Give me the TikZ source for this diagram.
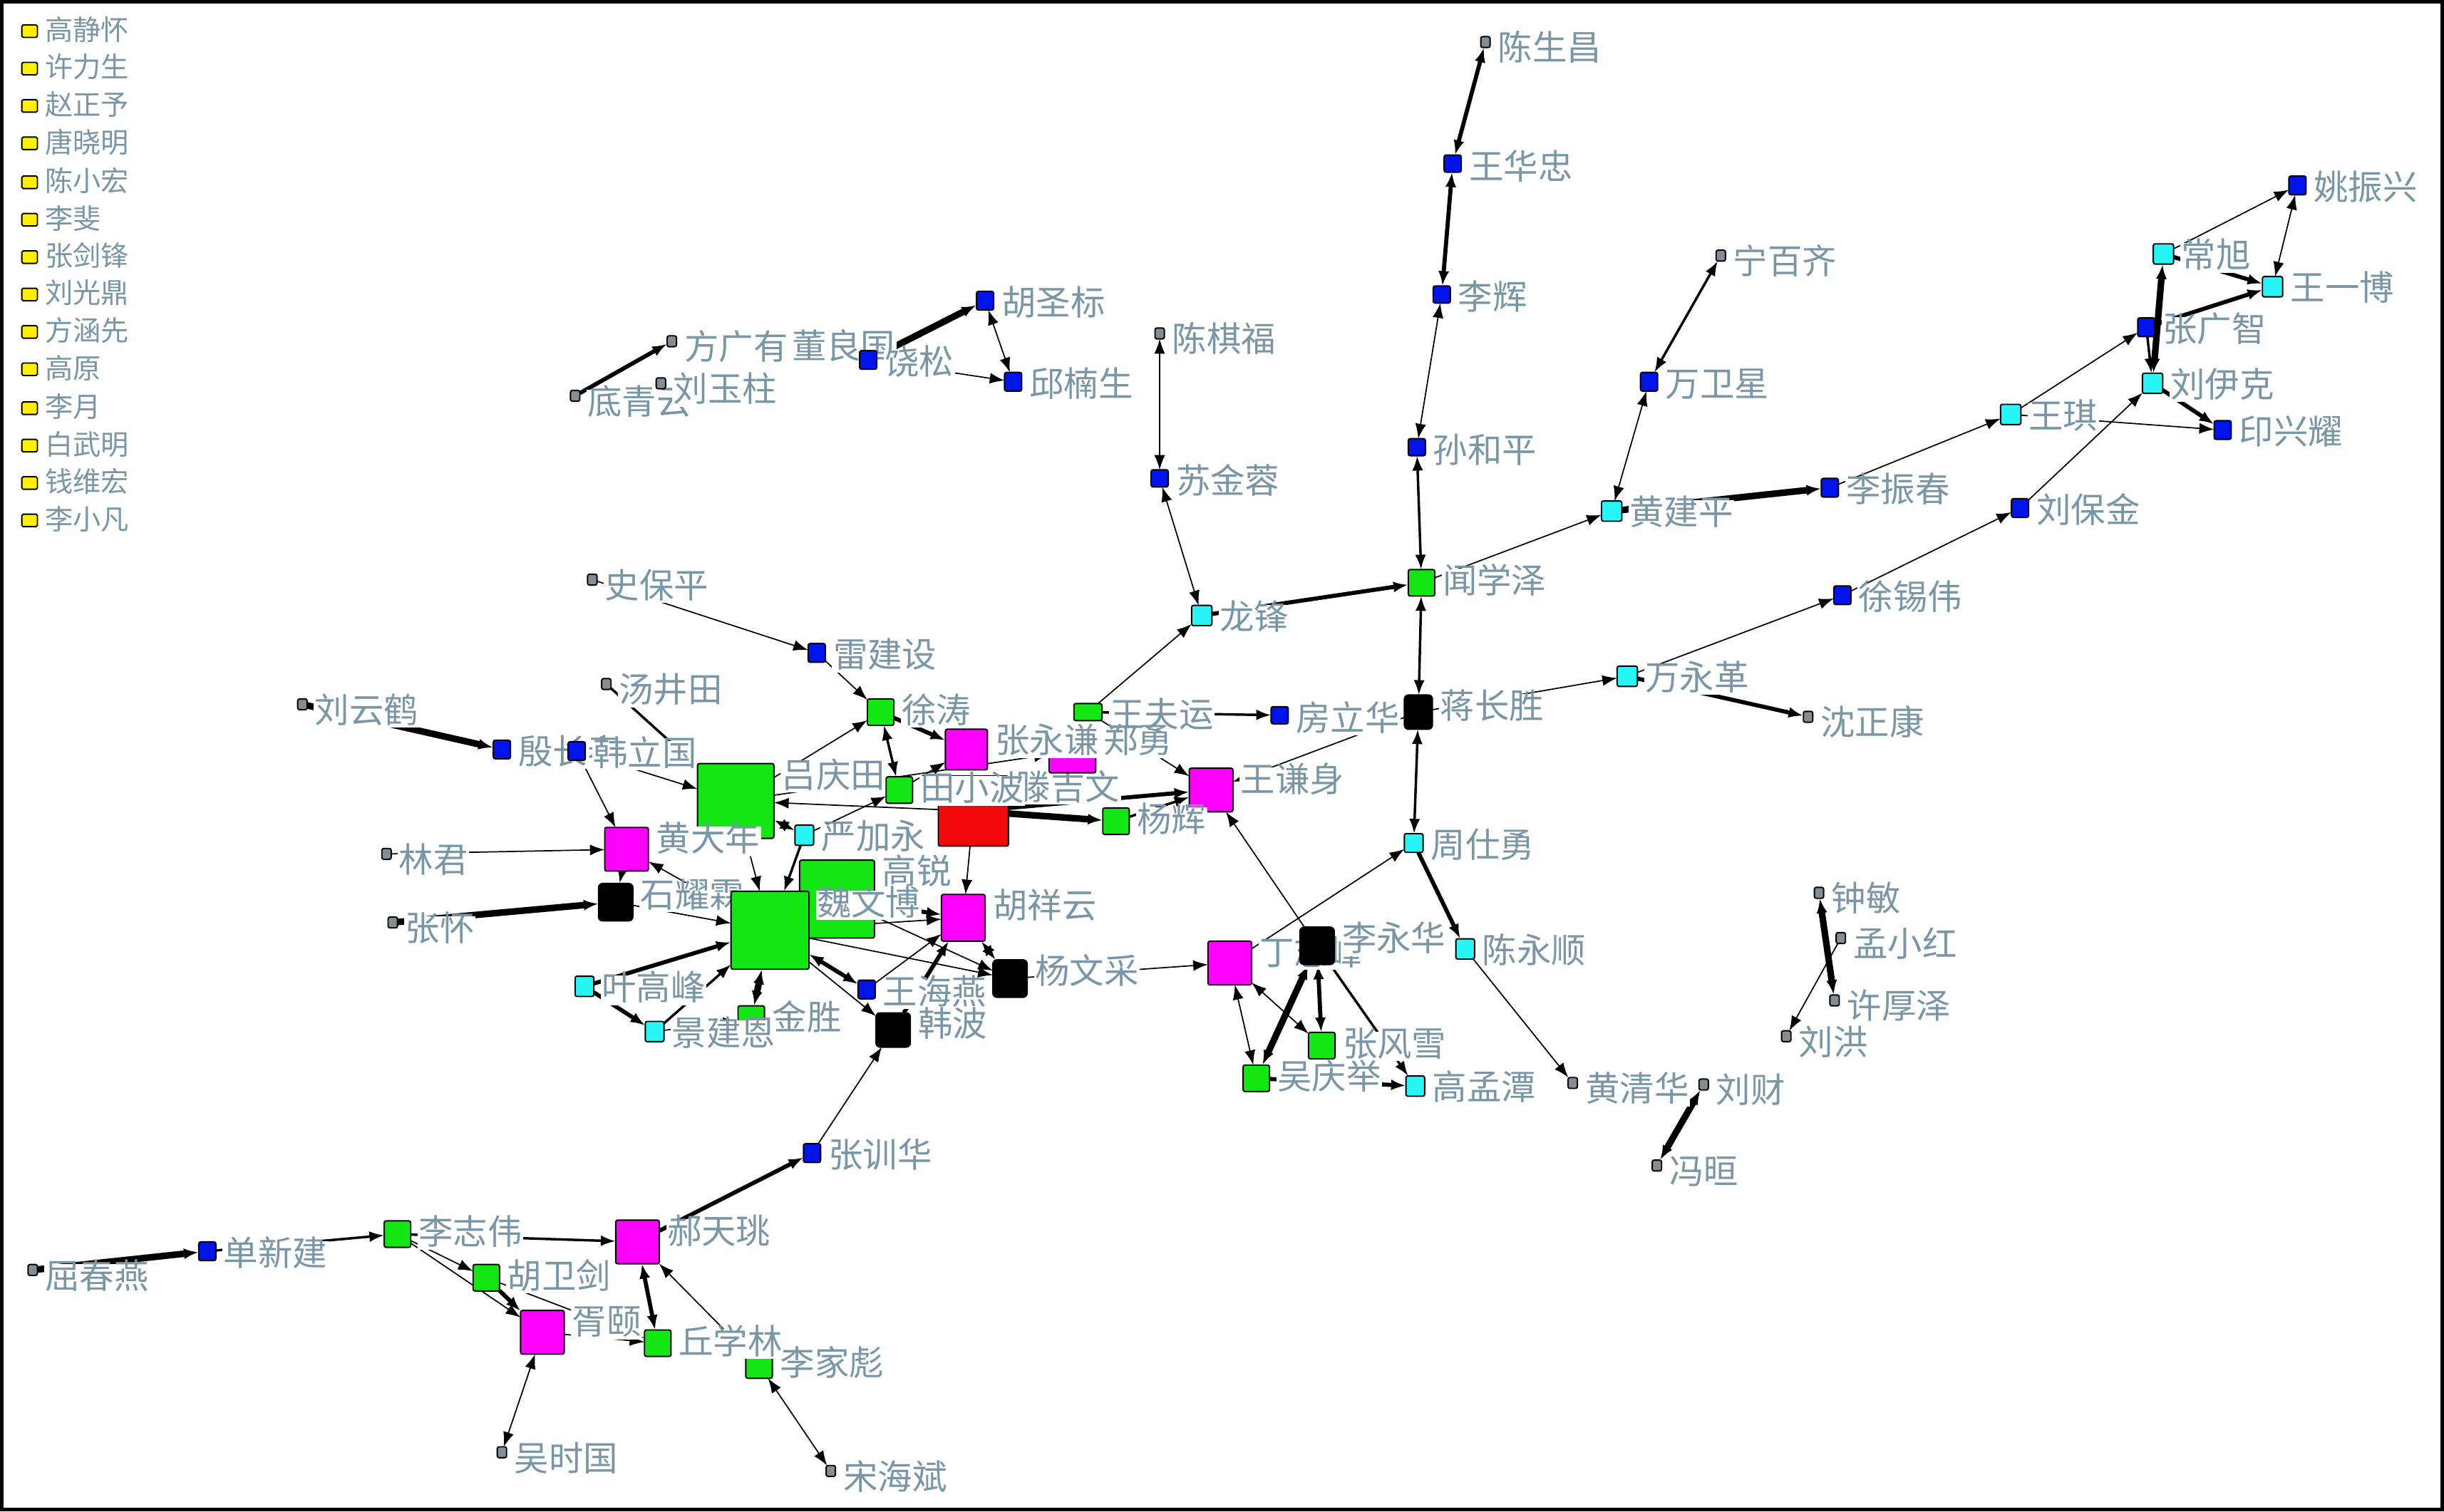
\documentclass[tikz,border=0pt]{standalone}
\usepackage{fontspec}
\setmainfont{Noto Sans CJK SC}
\usetikzlibrary{arrows.meta,calc}
\definecolor{cgreen}{RGB}{20,230,20}
\definecolor{cblue}{RGB}{0,20,235}
\definecolor{ccyan}{RGB}{40,245,245}
\definecolor{cmag}{RGB}{255,0,255}
\definecolor{cred}{RGB}{240,10,10}
\definecolor{cgray}{RGB}{130,142,148}
\definecolor{cyel}{RGB}{255,240,0}
\definecolor{labc}{RGB}{120,150,166}
\pgfdeclarelayer{bg}
\pgfdeclarelayer{edges}
\pgfsetlayers{bg,edges,main}
\tikzset{
  nd/.style={draw=black,line width=0.5pt,rounded corners=0.7pt,inner sep=0pt,outer sep=0pt},
  sgreen/.style={nd,fill=cgreen},
  sblue/.style={nd,fill=cblue},
  scyan/.style={nd,fill=ccyan},
  smag/.style={nd,fill=cmag},
  sred/.style={nd,fill=cred},
  sblack/.style={nd,fill=black,rounded corners=1.5pt},
  sgray/.style={nd,fill=cgray},
  syel/.style={nd,fill=cyel,rounded corners=0.5pt},
  lab/.style={anchor=west,fill=white,text=labc,inner sep=0.4pt,font=\fontsize{12.6}{13}\selectfont,text height=0.86em,text depth=0.14em},
  leglab/.style={anchor=west,text=labc,inner sep=0.4pt,font=\fontsize{10.2}{11}\selectfont},
  e0/.style={line width=0.45pt},
  e1/.style={line width=0.9pt},
  e2/.style={line width=1.5pt},
  e3/.style={line width=2.4pt},
  oneway/.style={-{Latex[length=1.9mm,width=1.4mm]}},
  twoway/.style={{Latex[length=1.9mm,width=1.4mm]}-{Latex[length=1.9mm,width=1.4mm]}},
}
\newcommand\mynode[7]{\node[#6,minimum width=#4*0.2mm,minimum height=#5*0.2mm] (#1) at (#2,#3) {};\node[lab] at ($(#1.north east)+(4,9)$) {#7};}
\newcommand\legitem[3]{\node[syel,minimum width=2mm,minimum height=1.6mm] (#1) at (19,#2) {};\node[leglab] at (28,#2-1) {#3};}
\begin{document}
\begin{tikzpicture}[x=0.2mm,y=-0.2mm]
\useasboundingbox (0,0) rectangle (1568,970);
\begin{pgfonlayer}{bg}
\fill[white] (0,0) rectangle (1568,970);
\end{pgfonlayer}
\draw[line width=0.5mm] (1.2,1.2) rectangle (1566.8,968.8);
% legend
\legitem{L1}{20}{高静怀}
\legitem{L2}{44}{许力生}
\legitem{L3}{68}{赵正予}
\legitem{L4}{92}{唐晓明}
\legitem{L5}{117}{陈小宏}
\legitem{L6}{141}{李斐}
\legitem{L7}{165}{张剑锋}
\legitem{L8}{189}{刘光鼎}
\legitem{L9}{213}{方涵先}
\legitem{L10}{237}{高原}
\legitem{L11}{262}{李月}
\legitem{L12}{286}{白武明}
\legitem{L13}{310}{钱维宏}
\legitem{L14}{334}{李小凡}
% top chain
\mynode{csc}{953}{27}{6}{7}{sgray}{陈生昌}
\mynode{whz}{932}{105}{11}{11}{sblue}{王华忠}
\mynode{lh}{925}{189}{11}{11}{sblue}{李辉}
\mynode{shp}{909}{287}{11}{11}{sblue}{孙和平}
\mynode{wxz}{912}{374}{17}{17}{sgreen}{闻学泽}
\mynode{jcs}{910}{457}{18}{22}{sblack}{蒋长胜}
\mynode{zsy}{907}{541}{12}{12}{scyan}{周仕勇}
\mynode{cys}{940}{609}{12}{13}{scyan}{陈永顺}
\mynode{hqh}{1009}{695}{6}{7}{sgray}{黄清华}
\mynode{lc}{1093}{696}{6}{7}{sgray}{刘财}
\mynode{fx}{1063}{748}{6}{7}{sgray}{冯晅}
\mynode{zm}{1167}{573}{6}{7}{sgray}{钟敏}
\mynode{mxh}{1181}{602}{6}{7}{sgray}{孟小红}
\mynode{xhz}{1177}{642}{6}{7}{sgray}{许厚泽}
\mynode{lho}{1146}{665}{6}{7}{sgray}{刘洪}
\mynode{gmt}{908}{697}{12}{13}{scyan}{高孟潭}
\mynode{zfx}{848}{671}{17}{17}{sgreen}{张风雪}
\mynode{wqj}{806}{692}{17}{17}{sgreen}{吴庆举}
\mynode{dzf}{789}{618}{28}{28}{smag}{丁志峰}
\mynode{lyh}{845}{607}{22}{24}{sblack}{李永华}
\mynode{wqs}{777}{507}{28}{28}{smag}{王谦身}
\mynode{yh}{716}{527}{17}{17}{sgreen}{杨辉}
\mynode{flh}{821}{459}{11}{11}{sblue}{房立华}
\mynode{wfy}{698}{457}{18}{11}{sgreen}{王夫运}
\mynode{lf}{771}{395}{13}{13}{scyan}{龙锋}
\mynode{sjr}{744}{307}{11}{11}{sblue}{苏金蓉}
\mynode{cqf}{744}{214}{6}{7}{sgray}{陈棋福}
\mynode{hsb}{632}{193}{11}{12}{sblue}{胡圣标}
\mynode{qns}{650}{245}{11}{12}{sblue}{邱楠生}
\mynode{fgy}{431}{219}{6}{7}{sgray}{方广有}
\node[lab] (dlg) at (507,224) {董良国};
\mynode{rs}{557}{231}{11}{12}{sblue}{饶松}
\mynode{dqy}{369}{254}{6}{7}{sgray}{底青云}
\mynode{lyz}{424}{246}{6}{7}{sgray}{刘玉柱}
\mynode{sbp}{380}{372}{6}{7}{sgray}{史保平}
\mynode{ljs}{524}{419}{11}{12}{sblue}{雷建设}
\mynode{tjt}{389}{439}{6}{7}{sgray}{汤井田}
\mynode{lyhe}{194}{452}{6}{7}{sgray}{刘云鹤}
\mynode{ycc}{322}{481}{11}{12}{sblue}{殷长春}
\mynode{hlg}{370}{482}{11}{12}{sblue}{韩立国}
\mynode{lqt}{472}{514}{49}{48}{sgreen}{吕庆田}
\mynode{hdn}{402}{545}{28}{28}{smag}{黄大年}
\mynode{lj}{248}{548}{6}{7}{sgray}{林君}
\mynode{syl}{395}{579}{22}{24}{sblack}{石耀霖}
\mynode{zh}{252}{592}{6}{7}{sgray}{张怀}
\mynode{gr}{537}{577}{48}{50}{sgreen}{高锐}
\mynode{wwb}{494}{597}{50}{50}{sgreen}{魏文博}
\mynode{yjy}{516}{536}{12}{13}{scyan}{严加永}
\mynode{xt}{565}{457}{17}{17}{sgreen}{徐涛}
\mynode{tjw}{624.5}{520.5}{45}{45}{sred}{滕吉文}
\mynode{txb}{577}{507}{17}{17}{sgreen}{田小波}
\mynode{zy}{688}{482}{30}{28}{smag}{郑勇}
\mynode{zyq}{620}{481}{27}{26}{smag}{张永谦}
\mynode{hxy}{618}{589}{28}{30}{smag}{胡祥云}
\mynode{ywc}{648}{628}{22}{24}{sblack}{杨文采}
\mynode{why}{556}{635}{11}{12}{sblue}{王海燕}
\mynode{hb}{573}{661}{22}{22}{sblack}{韩波}
\mynode{js}{482}{654}{17}{17}{sgreen}{金胜}
\mynode{ygf}{375}{633}{12}{13}{scyan}{叶高峰}
\mynode{jje}{420}{662}{12}{13}{scyan}{景建恩}
\mynode{zxh}{521}{740}{11}{12}{sblue}{张训华}
% bottom left
\mynode{qcy}{21}{815}{6}{7}{sgray}{屈春燕}
\mynode{sxj}{133}{803}{11}{12}{sblue}{单新建}
\mynode{lzw}{255}{792}{17}{17}{sgreen}{李志伟}
\mynode{hty}{409}{797}{28}{28}{smag}{郝天珧}
\mynode{hwj}{312}{820}{17}{17}{sgreen}{胡卫剑}
\mynode{xy}{348}{855}{28}{28}{smag}{胥颐}
\mynode{ljb}{487}{876}{17}{17}{sgreen}{李家彪}
\mynode{qxl}{422}{862}{17}{17}{sgreen}{丘学林}
\mynode{wsg}{322}{932}{6}{7}{sgray}{吴时国}
\mynode{shb}{533}{944}{6}{7}{sgray}{宋海斌}
% right
\mynode{nbq}{1104}{164}{6}{7}{sgray}{宁百齐}
\mynode{wwx}{1058}{245}{11}{12}{sblue}{万卫星}
\mynode{hjp}{1034}{328}{13}{13}{scyan}{黄建平}
\mynode{lzc}{1174}{313}{11}{12}{sblue}{李振春}
\mynode{wq}{1290}{266}{13}{13}{scyan}{王琪}
\mynode{lbj}{1296}{326}{11}{12}{sblue}{刘保金}
\mynode{xxw}{1182}{382}{11}{12}{sblue}{徐锡伟}
\mynode{wyg}{1044}{434}{13}{13}{scyan}{万永革}
\mynode{szk}{1160}{460}{6}{7}{sgray}{沈正康}
\mynode{yzx}{1474}{119}{11}{12}{sblue}{姚振兴}
\mynode{cx}{1388}{163}{13}{13}{scyan}{常旭}
\mynode{wyb}{1458}{184}{13}{13}{scyan}{王一博}
\mynode{zgz}{1377}{210}{11}{12}{sblue}{张广智}
\mynode{lyk}{1381}{246}{13}{13}{scyan}{刘伊克}
\mynode{yxy}{1426}{276}{11}{12}{sblue}{印兴耀}
% edges
\begin{pgfonlayer}{edges}
\draw[e2,twoway] (csc) -- (whz);
\draw[e2,twoway] (whz) -- (lh);
\draw[e0,twoway] (lh) -- (shp);
\draw[e1,twoway] (shp) -- (wxz);
\draw[e1,twoway] (wxz) -- (jcs);
\draw[e2,oneway] (lf) -- (wxz);
\draw[e0,oneway] (wxz) -- (hjp);
\draw[e0,twoway] (hjp) -- (wwx);
\draw[e1,twoway] (wwx) -- (nbq);
\draw[e3,oneway] (hjp) -- (lzc);
\draw[e0,oneway] (lzc) -- (wq);
\draw[e0,oneway] (wq) -- (zgz);
\draw[e0,oneway] (wq) -- (yxy);
\draw[e0,oneway] (lbj) -- (lyk);
\draw[e0,oneway] (xxw) -- (lbj);
\draw[e0,oneway] (wyg) -- (xxw);
\draw[e2,oneway] (wyg) -- (szk);
\draw[e0,oneway] (jcs) -- (wyg);
\draw[e0,oneway] (cx) -- (yzx);
\draw[e0,twoway] (yzx) -- (wyb);
\draw[e2,oneway] (cx) -- (wyb);
\draw[e2,oneway] (zgz) -- (wyb);
\draw[e3,twoway] (cx) -- (lyk);
\draw[e1,oneway] (zgz) -- (lyk);
\draw[e2,oneway] (lyk) -- (yxy);
\draw[e0,twoway] (cqf) -- (sjr);
\draw[e0,twoway] (sjr) -- (lf);
\draw[e0,oneway] (wfy) -- (lf);
\draw[e1,oneway] (wfy) -- (flh);
\draw[e0,oneway] (jcs) -- (wqs);
\draw[e0,oneway] (wfy) -- (wqs);
\draw[e2,oneway] (tjw) -- (wqs);
\draw[e1,oneway] (yh) -- (wqs);
\draw[e0,oneway] (lyh) -- (wqs);
\draw[e0,oneway] (dzf) -- (zsy);
\draw[e1,twoway] (zsy) -- (jcs);
\draw[e2,oneway] (zsy) -- (cys);
\draw[e0,oneway] (cys) -- (hqh);
\draw[e3,twoway] (fx) -- (lc);
\draw[e3,twoway] (zm) -- (xhz);
\draw[e0,oneway] (mxh) -- (lho);
\draw[e0,oneway] (ywc) -- (dzf);
\draw[e0,twoway] (dzf) -- (wqj);
\draw[e0,twoway] (dzf) -- (zfx);
\draw[e3,twoway] (lyh) -- (wqj);
\draw[e2,twoway] (lyh) -- (zfx);
\draw[e1,oneway] (lyh) -- (gmt);
\draw[e2,oneway] (wqj) -- (gmt);
% central
\draw[e3,oneway] (tjw) -- (yh);
\draw[e0,oneway] (tjw) -- (hxy);
\draw[e0,oneway] (tjw) -- (lqt);
\draw[e2,oneway] (xt) -- (zyq);
\draw[e1,twoway] (xt) -- (txb);
\draw[e0,oneway] (lqt) -- (xt);
\draw[e0,oneway] (ljs) -- (xt);
\draw[e0,oneway] (sbp) -- (ljs);
\draw[e0,oneway] (txb) -- (zyq);
\draw[e0,oneway] (lqt) -- (zy);
\draw[e0,oneway] (yjy) -- (txb);
\draw[e2,twoway] (lqt) -- (yjy);
\draw[e1,oneway] (yjy) -- (wwb);
\draw[e0,oneway] (lqt) -- (wwb);
\draw[e0,oneway] (hlg) -- (lqt);
\draw[e1,oneway] (tjt) -- (lqt);
\draw[e3,oneway] (lyhe) -- (ycc);
\draw[e0,oneway] (hlg) -- (hdn);
\draw[e0,oneway] (lj) -- (hdn);
\draw[e3,oneway] (zh) -- (syl);
\draw[e2,twoway] (hdn) -- (syl);
\draw[e0,oneway] (wwb) -- (hdn);
\draw[e0,oneway] (syl) -- (wwb);
\draw[e2,oneway] (ygf) -- (wwb);
\draw[e2,oneway] (ygf) -- (jje);
\draw[e1,oneway] (jje) -- (wwb);
\draw[e3,twoway] (js) -- (wwb);
\draw[e0,oneway] (jje) -- (js);
\draw[e0,oneway] (wwb) -- (hb);
\draw[e0,oneway] (zxh) -- (hb);
\draw[e2,oneway] (hty) -- (zxh);
\draw[e2,twoway] (why) -- (wwb);
\draw[e0,oneway] (wwb) -- (hxy);
\draw[e2,twoway] (hxy) -- (ywc);
\draw[e0,oneway] (why) -- (hxy);
\draw[e2,oneway] (hb) -- (hxy);
\draw[e0,oneway] (wwb) -- (ywc);
\draw[e0,oneway] (gr) -- (ywc);
\draw[e2,oneway] (gr) -- (hxy);
% bottom left
\draw[e3,oneway] (qcy) -- (sxj);
\draw[e1,oneway] (sxj) -- (lzw);
\draw[e1,oneway] (lzw) -- (hty);
\draw[e0,oneway] (lzw) -- (hwj);
\draw[e0,oneway] (lzw) -- (xy);
\draw[e2,oneway] (hwj) -- (xy);
\draw[e0,oneway] (hwj) -- (qxl);
\draw[e2,twoway] (hty) -- (qxl);
\draw[e0,oneway] (ljb) -- (hty);
\draw[e0,twoway] (shb) -- (ljb);
\draw[e0,twoway] (wsg) -- (xy);
\draw[e0,oneway] (xy) -- (qxl);
% top middle
\draw[e2,oneway] (dqy) -- (fgy);
\draw[e3,oneway] (rs) -- (hsb);
\draw[e0,twoway] (hsb) -- (qns);
\draw[e0,oneway] (rs) -- (qns);
\end{pgfonlayer}
\end{tikzpicture}
\end{document}
